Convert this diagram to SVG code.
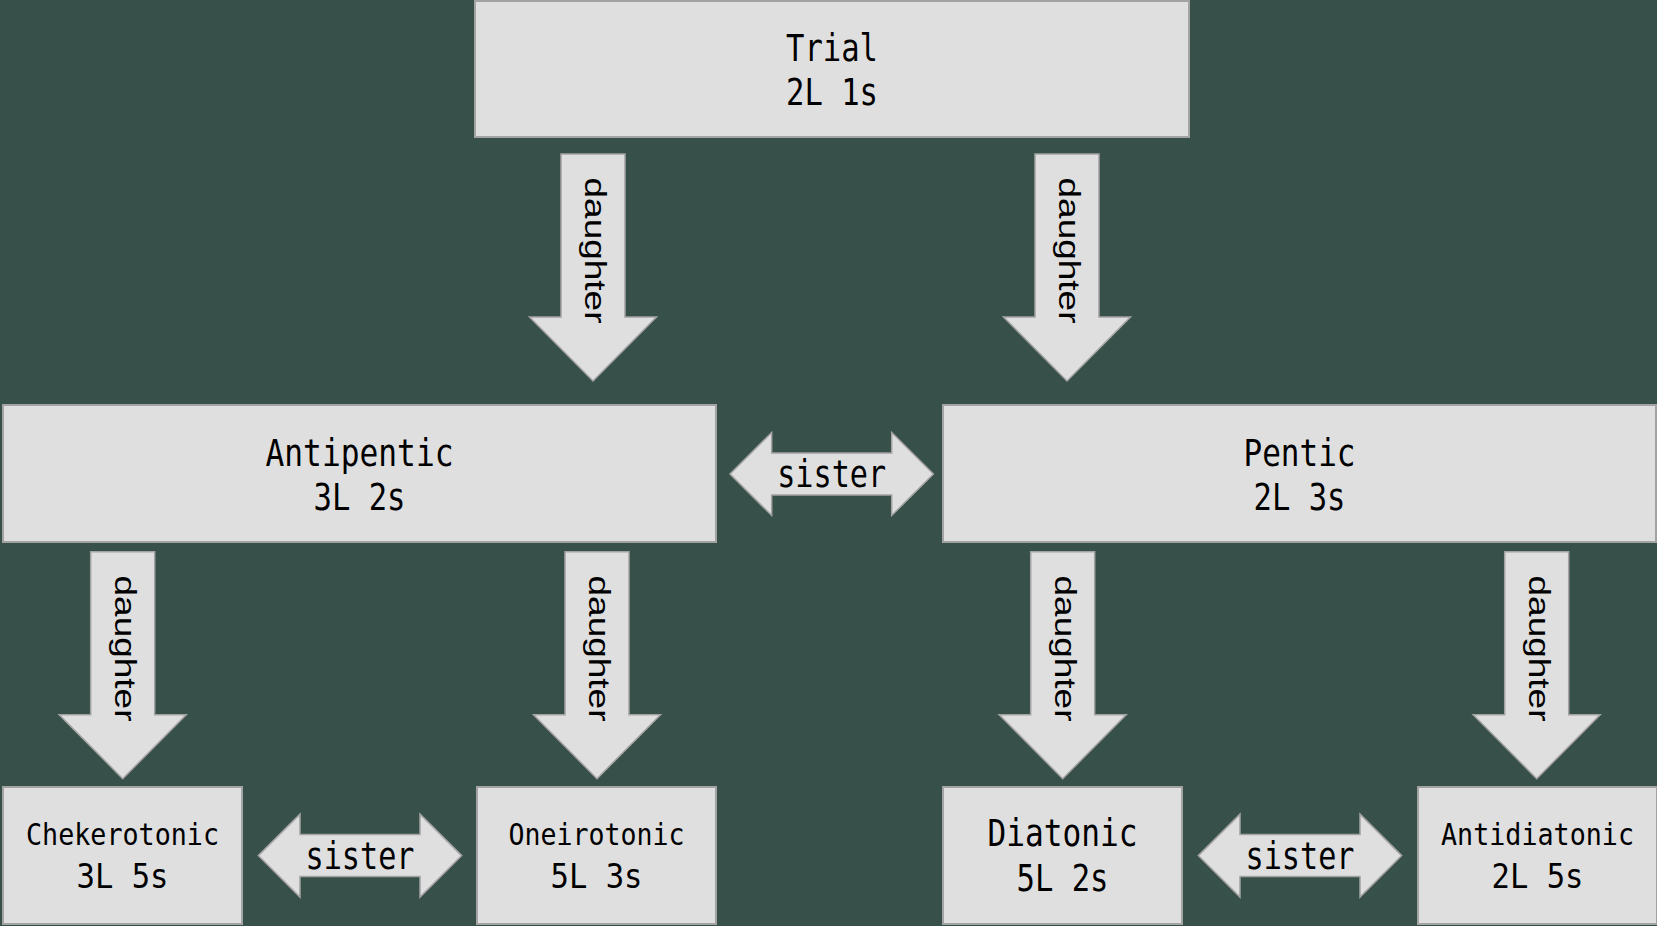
<svg xmlns="http://www.w3.org/2000/svg" width="1657" height="926" viewBox="0 0 1657 926">
  <style>
    .box { fill: #dfdfdf; stroke: #a3a3a3; stroke-width: 2; }
    .arrow { fill: #dfdfdf; stroke: #a3a3a3; stroke-width: 1.5; stroke-linejoin: miter; }
    .lbl { font-family: "DejaVu Sans Mono", "Liberation Mono", monospace; fill: #000; text-anchor: middle; }
    .big { font-size: 37px; }
    .small { font-size: 30px; }
    .mid { font-size: 33px; }
    .rel { font-family: "Liberation Sans", Arial, sans-serif; font-size: 30px; fill: #000; text-anchor: middle; }
  </style>
  <defs>
    <!-- downward block arrow, origin at top centre of the shaft -->
    <path id="down" d="M-32,0 H32 V163 H63.5 L0,227 L-63.5,163 H-32 Z"/>
    <!-- horizontal double-headed block arrow, origin at left tip on the centre line -->
    <path id="both" d="M0,0 L41.7,-41.5 V-21 H161.7 V-41.5 L203.4,0 L161.7,41.5 V21 H41.7 V41.5 Z"/>
  </defs>

  <rect width="1657" height="926" fill="#37504a"/>

  <g id="connectors">
    <g id="trial-antipentic">
      <use href="#down" class="arrow" x="593" y="154"/>
      <text class="rel" transform="translate(593,250.5) rotate(90)" y="7.6" textLength="146" lengthAdjust="spacingAndGlyphs">daughter</text>
    </g>
    <g id="trial-pentic">
      <use href="#down" class="arrow" x="1067" y="154"/>
      <text class="rel" transform="translate(1067,250.5) rotate(90)" y="7.6" textLength="146" lengthAdjust="spacingAndGlyphs">daughter</text>
    </g>
    <g id="antipentic-pentic">
      <use href="#both" class="arrow" x="730" y="474"/>
      <text class="lbl big" x="831.7" y="487.3" textLength="109" lengthAdjust="spacingAndGlyphs">sister</text>
    </g>
    <g id="antipentic-chekerotonic">
      <use href="#down" class="arrow" x="122.7" y="551.7"/>
      <text class="rel" transform="translate(122.7,648.5) rotate(90)" y="7.6" textLength="146" lengthAdjust="spacingAndGlyphs">daughter</text>
    </g>
    <g id="antipentic-oneirotonic">
      <use href="#down" class="arrow" x="597" y="551.7"/>
      <text class="rel" transform="translate(597,648.5) rotate(90)" y="7.6" textLength="146" lengthAdjust="spacingAndGlyphs">daughter</text>
    </g>
    <g id="pentic-diatonic">
      <use href="#down" class="arrow" x="1062.7" y="551.7"/>
      <text class="rel" transform="translate(1062.7,648.5) rotate(90)" y="7.6" textLength="146" lengthAdjust="spacingAndGlyphs">daughter</text>
    </g>
    <g id="pentic-antidiatonic">
      <use href="#down" class="arrow" x="1536.7" y="551.7"/>
      <text class="rel" transform="translate(1536.7,648.5) rotate(90)" y="7.6" textLength="146" lengthAdjust="spacingAndGlyphs">daughter</text>
    </g>
    <g id="chekerotonic-oneirotonic">
      <use href="#both" class="arrow" x="258.3" y="855.6"/>
      <text class="lbl big" x="360" y="869" textLength="109" lengthAdjust="spacingAndGlyphs">sister</text>
    </g>
    <g id="diatonic-antidiatonic">
      <use href="#both" class="arrow" x="1198.3" y="855.6"/>
      <text class="lbl big" x="1300" y="869" textLength="109" lengthAdjust="spacingAndGlyphs">sister</text>
    </g>
  </g>

  <g id="trial">
    <rect class="box" x="475" y="1" width="714" height="136"/>
    <text class="lbl big" x="832" y="61" textLength="92" lengthAdjust="spacingAndGlyphs">Trial</text>
    <text class="lbl big" x="832" y="105" textLength="92" lengthAdjust="spacingAndGlyphs">2L 1s</text>
  </g>

  <g id="antipentic">
    <rect class="box" x="3" y="405" width="713" height="137"/>
    <text class="lbl big" x="359.5" y="466" textLength="188" lengthAdjust="spacingAndGlyphs">Antipentic</text>
    <text class="lbl big" x="359.5" y="510" textLength="92" lengthAdjust="spacingAndGlyphs">3L 2s</text>
  </g>

  <g id="pentic">
    <rect class="box" x="943" y="405" width="713" height="137"/>
    <text class="lbl big" x="1299.5" y="466" textLength="112" lengthAdjust="spacingAndGlyphs">Pentic</text>
    <text class="lbl big" x="1299.5" y="510" textLength="92" lengthAdjust="spacingAndGlyphs">2L 3s</text>
  </g>

  <g id="chekerotonic">
    <rect class="box" x="3" y="787" width="239" height="137"/>
    <text class="lbl small" x="122.5" y="845" textLength="193" lengthAdjust="spacingAndGlyphs">Chekerotonic</text>
    <text class="lbl mid" x="122.5" y="888" textLength="92" lengthAdjust="spacingAndGlyphs">3L 5s</text>
  </g>

  <g id="oneirotonic">
    <rect class="box" x="477" y="787" width="239" height="137"/>
    <text class="lbl small" x="596.5" y="845" textLength="176" lengthAdjust="spacingAndGlyphs">Oneirotonic</text>
    <text class="lbl mid" x="596.5" y="888" textLength="92" lengthAdjust="spacingAndGlyphs">5L 3s</text>
  </g>

  <g id="diatonic">
    <rect class="box" x="943" y="787" width="239" height="137"/>
    <text class="lbl big" x="1062.5" y="846" textLength="150" lengthAdjust="spacingAndGlyphs">Diatonic</text>
    <text class="lbl big" x="1062.5" y="890.7" textLength="92" lengthAdjust="spacingAndGlyphs">5L 2s</text>
  </g>

  <g id="antidiatonic">
    <rect class="box" x="1418" y="787" width="239" height="137"/>
    <text class="lbl small" x="1537.5" y="845" textLength="193" lengthAdjust="spacingAndGlyphs">Antidiatonic</text>
    <text class="lbl mid" x="1537.5" y="888" textLength="92" lengthAdjust="spacingAndGlyphs">2L 5s</text>
  </g>
</svg>
